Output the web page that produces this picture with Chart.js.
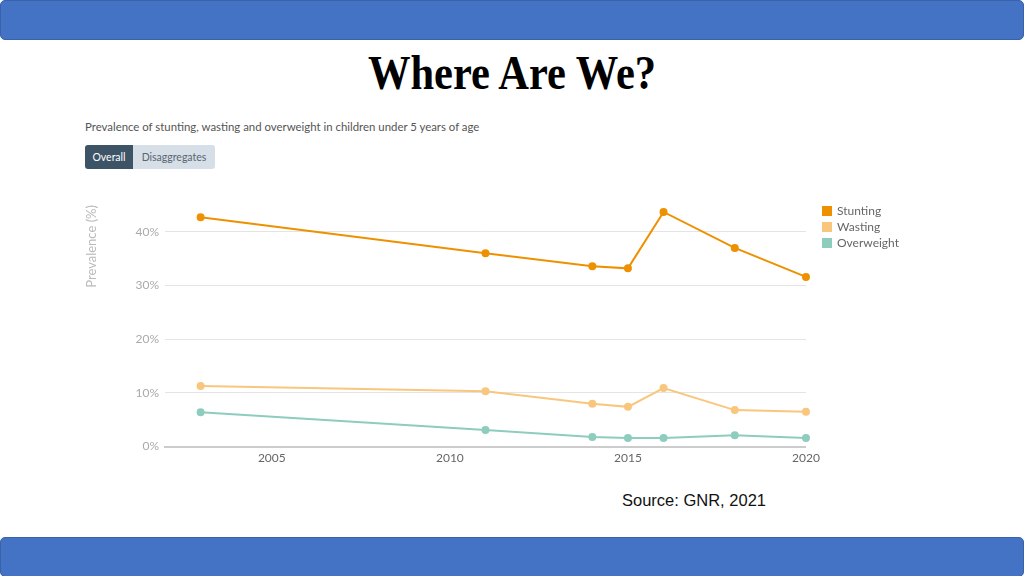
<!DOCTYPE html>
<html>
<head>
<meta charset="utf-8">
<script src="https://cdn.jsdelivr.net/npm/chart.js@4"></script>
<style>
  body { margin: 0; width: 1024px; height: 576px; background: #fff; position: relative; overflow: hidden; font-family: Lato, "Noto Sans", sans-serif; }
  .bar { position: absolute; left: 0; width: 1022px; height: 38px; background: #4472C4; border: 1px solid #3A62A8; border-radius: 5px; }
  #title { position: absolute; left: 0; width: 1024px; top: 48px; text-align: center; font-family: "Liberation Serif", "Times New Roman", serif; font-weight: bold; font-size: 42.5px; color: #000; transform: scaleY(1.12); }
  #sub { position: absolute; left: 85px; top: 120px; font-size: 11.4px; color: #555; }
  .btn { position: absolute; top: 145px; height: 24px; line-height: 24px; font-size: 10.5px; text-align: center; }
  #b1 { left: 85px; width: 48px; background: #3D5366; color: #fff; border-radius: 3px 0 0 3px; }
  #b2 { left: 133px; width: 82px; background: #D6DEE7; color: #5a6570; border-radius: 0 3px 3px 0; }
  #wrap { position: absolute; left: 80px; top: 190px; width: 830px; height: 279px; }
  #src { position: absolute; left: 622px; top: 491px; font-family: "Liberation Sans", Arial, sans-serif; font-size: 16.5px; color: #111; }
</style>
</head>
<body>
<div class="bar" style="top:0"></div>
<div id="title">Where Are We?</div>
<div id="sub">Prevalence of stunting, wasting and overweight in children under 5 years of age</div>
<div class="btn" id="b1">Overall</div>
<div class="btn" id="b2">Disaggregates</div>
<div id="wrap"><canvas id="chart"></canvas></div>
<div id="src">Source: GNR, 2021</div>
<div class="bar" style="top:537px"></div>
<script>
const years      = [2003, 2011, 2014, 2015, 2016, 2018, 2020];
const stunting   = [42.7, 36.0, 33.6, 33.2, 43.7, 37.0, 31.6];
const wasting    = [11.3, 10.3, 8.0, 7.4, 10.9, 6.8, 6.5];
const overweight = [6.4, 3.1, 1.8, 1.6, 1.6, 2.1, 1.6];
const xTicks     = [2005, 2010, 2015, 2020];
const yTicks     = [0, 10, 20, 30, 40];

function series(label, values, color) {
  return {
    label: label,
    data: years.map((y, i) => ({ x: y, y: values[i] })),
    borderColor: color,
    backgroundColor: color,
    borderWidth: 2,
    pointRadius: 3,
    pointHoverRadius: 3,
    tension: 0,
    clip: false
  };
}

// nudge the legend away from the plot, like the original layout
const legendShift = {
  id: 'legendShift',
  afterLayout(chart) {
    const lg = chart.legend;
    lg.left += 13; lg.right += 13;
    lg.top -= 4; lg.bottom -= 4;
  }
};

new Chart(document.getElementById('chart'), {
  type: 'line',
  data: {
    datasets: [
      series('Stunting', stunting, '#EE9100'),
      series('Wasting', wasting, '#F9C67D'),
      series('Overweight', overweight, '#8ECDBE')
    ]
  },
  plugins: [legendShift],
  options: {
    responsive: true,
    maintainAspectRatio: false,
    animation: false,
    layout: { padding: { top: 15, right: 14 } },
    plugins: {
      legend: {
        position: 'right',
        align: 'start',
        fullSize: false,
        labels: {
          boxWidth: 8,
          boxHeight: 8,
          padding: 4,
          color: '#666',
          font: { family: 'Lato', size: 12 }
        }
      },
      tooltip: { enabled: false }
    },
    scales: {
      x: {
        type: 'linear',
        min: 2002,
        max: 2020,
        afterBuildTicks: s => { s.ticks = xTicks.map(v => ({ value: v })); },
        ticks: {
          padding: 4,
          color: '#666',
          font: { family: 'Lato', size: 12 },
          callback: v => String(v)
        },
        grid: { display: false, drawTicks: false },
        border: { display: true, color: '#ccc', width: 2 }
      },
      y: {
        min: 0,
        max: 45,
        afterBuildTicks: s => { s.ticks = yTicks.map(v => ({ value: v })); },
        afterFit: s => { s.width = 85; },
        ticks: {
          padding: 6,
          color: '#aaa',
          font: { family: 'Lato', size: 12 },
          callback: v => v + '%'
        },
        grid: { color: '#e4e4e4', drawTicks: false },
        border: { display: false },
        title: {
          display: true,
          text: 'Prevalence (%)',
          align: 'end',
          color: '#bbb',
          font: { family: 'Lato', size: 13 }
        }
      }
    }
  }
});
</script>
</body>
</html>
